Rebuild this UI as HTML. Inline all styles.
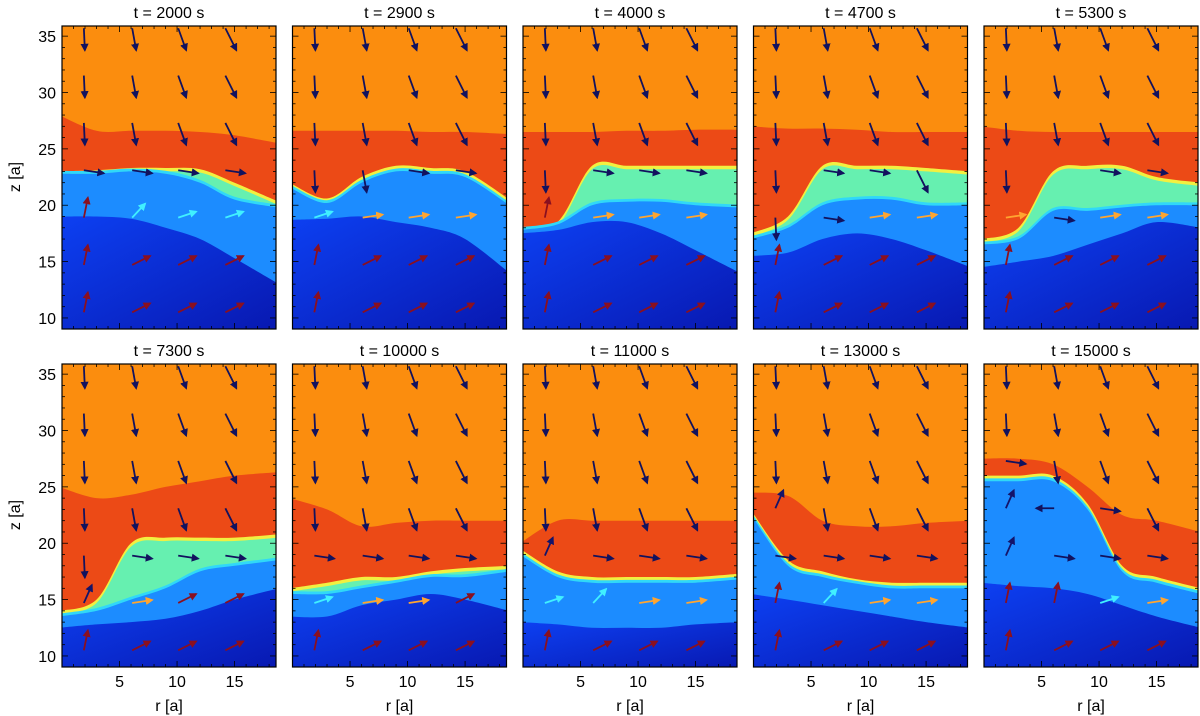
<!DOCTYPE html>
<html><head><meta charset="utf-8"><style>
html,body{margin:0;padding:0;background:#fff;}
svg{display:block;font-family:"Liberation Sans","DejaVu Sans",sans-serif;}
</style></head><body>
<svg id="fig" width="1200" height="716" viewBox="0 0 1200 716" xmlns="http://www.w3.org/2000/svg">
<defs>
<linearGradient id="dbg" x1="0" y1="0" x2="1" y2="1"><stop offset="0" stop-color="#0d40f2"/><stop offset="1" stop-color="#0818b0"/></linearGradient>
<marker id="mk" viewBox="0 0 10 10" refX="8" refY="5" markerWidth="4.5" markerHeight="4.5" orient="auto"><path d="M0,0L10,5L0,10z" fill="context-stroke"/></marker>
</defs>
</svg>
<script>
// ---- data ----
const times = ["2000","2900","4000","4700","5300","7300","10000","11000","13000","15000"];
const rSamples = [0,3,6,9,12,15,18.6];
// b1: orange->red, b2: red->green, b3: green->light blue, b4: light blue->dark blue (z values)
const b1 = [
 [28,26.6,26.6,26.6,26.5,26.2,25.5],
 [26.6,26.6,26.6,26.6,26.5,26.5,26.3],
 [26.5,26.5,26.5,26.6,26.6,26.7,26.7],
 [27,26.8,26.8,26.7,26.5,26.5,26.5],
 [27,26.6,26.5,26.5,26.5,26.5,26.5],
 [25,24,24.3,25,25.5,26,26.3],
 [24,23,21.5,21.8,22,22,22],
 [20,22,22,22,22,22,22],
 [24.5,24.2,22,21.5,21.5,21.8,22],
 [27.5,27.5,27,25,22.5,22,21]];
const b2 = [
 [23,23.1,23.3,23.3,23.2,22,20.3],
 [22,20.6,22.5,23.5,23.3,23,20.5],
 [18,18.5,23.5,23.5,23.5,23.5,23.5],
 [17.5,19,23.5,23.5,23.5,23.3,23],
 [17,18,23,23.5,23.5,22.5,22],
 [14,15,20,20.5,20.5,20.5,20.8],
 [16,16.5,17,17,17.5,17.8,18],
 [19.5,17.5,17,17,17,17,17.3],
 [23,18.5,17.5,16.8,16.5,16.5,16.5],
 [26,26,26,23.5,18,17,16]];
const b3 = [
 [22.8,22.8,23,22.8,22,20.5,19.8],
 [21.6,20.2,22,23,22.8,22.5,20],
 [17.8,18.3,20,20.3,20.3,20,19.8],
 [17,18,20,20.5,20.5,20,20],
 [16.5,17,19.5,19.5,19.8,20,20],
 [13.5,14,15,16,17.5,18,18.5],
 [15.5,15.5,16,16.5,17,17,17.5],
 [19,17,16.5,16.5,16.5,16.5,16.8],
 [22.6,18,17,16.4,16,16,16],
 [25.5,25.5,25.5,23,17.5,16.5,15.5]];
const b4 = [
 [19,19,18.8,18,17,15.3,13],
 [18.7,18.8,19,18.5,18,17,14],
 [17.5,17.8,18.5,18.5,17.5,16,14],
 [15.5,15.8,17,17.5,17,16,14.5],
 [14.5,15,15.5,16.5,17.5,18.5,18],
 [12.5,12.8,13,13.3,14,15,16],
 [13.5,13.5,14.5,15,15.5,15,14],
 [13,12.8,12.5,12.5,12.5,12.8,13],
 [15.5,15,14.5,14,13.5,13,12.5],
 [16.5,16.2,16,15.5,14.5,13.5,12.5]];
// arrow codes: rows from top (z 35.7 ... 10.5), 4 columns
const arrowRows = [
 ["DDDD","DDDD","DDDD","RRRR","Uccc","Uuuu","Uuuu"],
 ["DDDD","DDDD","DDDD","DDRR","cooo","Uuuu","Uuuu"],
 ["DDDD","DDDD","DDDD","DRRR","Uooo","Uuuu","Uuuu"],
 ["DDDD","DDDD","DDDD","DRRD","DRoo","Uuuu","Uuuu"],
 ["DDDD","DDDD","DDDD","D-RR","oRoo","Uuuu","Uuuu"],
 ["DDDD","DDDD","DDDD","DDDD","DRRR","Nouu","Uuuu"],
 ["DDDD","DDDD","DDDD","DDDD","RRRR","coou","Uuuu"],
 ["DDDD","DDDD","DDDD","DDDD","NRRR","ccoo","Uuuu"],
 ["DDDD","DDDD","DDDD","NDDD","RRRR","Ucoo","Uuuu"],
 ["DDDD","DDDD","RDDD","NLRD","NRRR","UUco","Uuuu"]];
const rTicks = [5,10,15];
const zTicks = [10,15,20,25,30,35];

// ---- layout ----
const NS="http://www.w3.org/2000/svg";
const svg=document.getElementById('fig');
const PW=214, PH=303, lefts=[62,292.5,523,753.5,984], tops=[26,364];
const R0=0,R1=18.6,Z0=9.02,Z1=35.9;
function mk(tag,attrs,parent){const e=document.createElementNS(NS,tag);for(const k in attrs)e.setAttribute(k,attrs[k]);(parent||svg).appendChild(e);return e;}
const arrowColors={D:"#12125e",R:"#12125e",N:"#14146a",L:"#12125e",c:"#40f0ff",o:"#ffa530",u:"#8a1020",U:"#8a1020"};
const colDx=[1,4,8,11];

times.forEach((t,i)=>{
  const row=Math.floor(i/5), col=i%5;
  const X0=lefts[col], Y0=tops[row];
  const sx=r=>X0+(r-R0)/(R1-R0)*PW;
  const sy=z=>Y0+(Z1-z)/(Z1-Z0)*PH;
  const g=mk('g',{});
  
  
  const cid='clip'+i;
  const cp=mk('clipPath',{id:cid},g); mk('rect',{x:X0,y:Y0,width:PW,height:PH},cp);
  const fg=mk('g',{'clip-path':'url(#'+cid+')'},g);
  mk('rect',{x:X0,y:Y0,width:PW,height:PH,fill:"#fb8d0e"},fg);
  function layer(b,fill,name){
    const pts=rSamples.map((r,k)=>[k==0?X0-3:k==rSamples.length-1?X0+PW+3:sx(r), sy(b[k])]);
    let d='M'+(X0-3)+','+(Y0+PH+3)+'L'+pts[0][0].toFixed(1)+','+pts[0][1].toFixed(1);
    for(let k=0;k<pts.length-1;k++){
      const p0=pts[Math.max(k-1,0)],p1=pts[k],p2=pts[k+1],p3=pts[Math.min(k+2,pts.length-1)];
      const c1=[p1[0]+(p2[0]-p0[0])/6,p1[1]+(p2[1]-p0[1])/6];
      const c2=[p2[0]-(p3[0]-p1[0])/6,p2[1]-(p3[1]-p1[1])/6];
      d+='C'+c1[0].toFixed(1)+','+c1[1].toFixed(1)+' '+c2[0].toFixed(1)+','+c2[1].toFixed(1)+' '+p2[0].toFixed(1)+','+p2[1].toFixed(1);
    }
    d+='L'+(X0+PW+3)+','+(Y0+PH+3)+'Z';
    const p=mk('path',{d:d,fill:fill},fg);
    
    
  }
  layer(b1[i],"#ec4a16","red-layer");
  layer(b2[i],"#f2f040","yellow-edge");
  layer(b2[i].map(v=>v-0.3),"#66f0b0","green-layer");
  layer(b3[i].map(v=>v+0.25),"#30d8f8","cyan-edge");
  layer(b3[i],"#1c8cff","lightblue-layer");
  layer(b4[i],"url(#dbg)","darkblue-layer");
  // arrows
  const zRows=[35.7,31.5,27.3,23.1,18.9,14.7,10.5], rCols=[1.9,6.1,10.1,14.2];
  arrowRows[i].forEach((s,ri)=>{
    for(let ci=0;ci<4;ci++){
      const c=s[ci]; if(c==='-')continue;
      let dx,dy;
      if(c==='D'){dx=colDx[ci];dy=22;}
      else if(c==='R'){dx=20;dy=3;}
      else if(c==='N'){dx=8;dy=-18;}
      else if(c==='L'){dx=-18;dy=0;}
      else if(c==='c'){dx=ci==1?13:18;dy=ci==1?-14:-6;}
      else if(c==='o'){dx=20;dy=-3;}
      else if(c==='u'){dx=18;dy=-9;}
      else {dx=4;dy=-20;}
      const x=sx(rCols[ci]), y=sy(zRows[ri]);
      const a=mk('line',{x1:x,y1:y,x2:x+dx,y2:y+dy,stroke:arrowColors[c],'stroke-width':1.8,'marker-end':'url(#mk)'},fg);
      
      
    }
  });
  // frame
  const fr=mk('rect',{x:X0,y:Y0,width:PW,height:PH,fill:'none',stroke:'#000','stroke-width':1.2},g);
  
  
  // ticks
  for(let r=1;r<=18;r++){const L=(r%5==0)?6:3;
    mk('line',{x1:sx(r),x2:sx(r),y1:Y0+PH,y2:Y0+PH-L,stroke:'#000','stroke-width':0.8},g);
    mk('line',{x1:sx(r),x2:sx(r),y1:Y0,y2:Y0+L,stroke:'#000','stroke-width':0.8},g);}
  for(let z=10;z<=35;z++){const L=(z%5==0)?6:3;
    mk('line',{x1:X0,x2:X0+L,y1:sy(z),y2:sy(z),stroke:'#000','stroke-width':0.8},g);
    mk('line',{x1:X0+PW,x2:X0+PW-L,y1:sy(z),y2:sy(z),stroke:'#000','stroke-width':0.8},g);}
  const tt=mk('text',{x:X0+PW/2,y:Y0-8,'text-anchor':'middle','font-size':16},g);
  tt.textContent='t = '+t+' s';
  
  
  if(row===1){
    rTicks.forEach(r=>{const l=mk('text',{x:sx(r),y:Y0+PH+20,'text-anchor':'middle','font-size':16},g);l.textContent=r;
      
      });
    const xl=mk('text',{x:X0+PW/2,y:Y0+PH+44,'text-anchor':'middle','font-size':16},g);xl.textContent='r  [a]';
    
    
  }
  if(col===0){
    zTicks.forEach(z=>{const l=mk('text',{x:X0-6,y:sy(z)+6,'text-anchor':'end','font-size':16},g);l.textContent=z;
      
      });
    const yl=mk('text',{x:0,y:0,'text-anchor':'middle','font-size':16,transform:'translate(20,'+(sy(22.5))+') rotate(-90)'},g);yl.textContent='z [a]';
    
    
  }
});
</script>
</body></html>
